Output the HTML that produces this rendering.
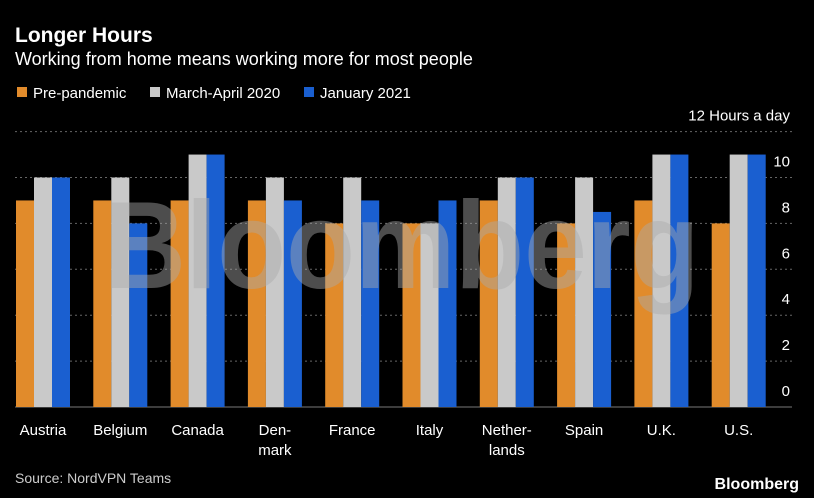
<!DOCTYPE html>
<html><head><meta charset="utf-8"><style>
body{margin:0;background:#000;width:814px;height:498px;overflow:hidden;font-family:"Liberation Sans",sans-serif;color:#fff}
svg{display:block}
</style></head><body>
<svg width="814" height="498" id="c">
<text x="15" y="42" font-size="21" font-weight="bold" fill="#fff">Longer Hours</text>
<text x="15" y="65" font-size="18" fill="#fff">Working from home means working more for most people</text>
<g font-size="15" fill="#fff">
<rect x="17" y="87" width="10" height="10" fill="#e18b2b"/>
<text x="33" y="98">Pre-pandemic</text>
<rect x="150" y="87" width="10" height="10" fill="#c9c9c9"/>
<text x="166" y="98">March-April 2020</text>
<rect x="304" y="87" width="10" height="10" fill="#1a5fd0"/>
<text x="320" y="98">January 2021</text>
</g>
<g id="grid"></g>
<g id="bars"></g>
<text x="402" y="288" text-anchor="middle" font-size="124" font-weight="bold" fill="#aaa" fill-opacity="0.45" textLength="595" lengthAdjust="spacingAndGlyphs">Bloomberg</text>
<g id="labels"></g>
<text x="15" y="483" font-size="14" fill="#ccc">Source: NordVPN Teams</text>
<text x="799" y="489" text-anchor="end" font-size="16" font-weight="bold" fill="#fff">Bloomberg</text>
</svg>
<script>
const categories=[["Austria"],["Belgium"],["Canada"],["Den-","mark"],["France"],["Italy"],["Nether-","lands"],["Spain"],["U.K."],["U.S."]];
const prePandemic=[9,9,9,9,8,8,9,8,9,8];
const marchApril2020=[10,10,11,10,10,8,10,10,11,11];
const january2021=[10,8,11,9,9,9,10,8.5,11,11];
const yTicks=[0,2,4,6,8,10,12];
const NS="http://www.w3.org/2000/svg";
const y0=407,unit=22.95,x0=16,step=77.3,bw=18;
const y=v=>y0-v*unit;
const gx=i=>x0+i*step;
const grid=document.getElementById('grid'),bars=document.getElementById('bars'),labels=document.getElementById('labels');
function mk(t,a,p){const e=document.createElementNS(NS,t);for(const k in a)e.setAttribute(k,a[k]);p.appendChild(e);return e;}
yTicks.forEach(t=>{
 const l=mk('line',{x1:15,x2:792,y1:y(t),y2:y(t),stroke:t===0?'#777':'#666','stroke-width':1,'stroke-dasharray':t===0?'':'2,3'},grid);
 
 
 const tx=mk('text',{x:790,y:y(t)-11,'text-anchor':'end','font-size':15,fill:'#fff'},grid);
 tx.textContent=t===12?'12 Hours a day':String(t);
 
 
});
const series=[[prePandemic,'#e18b2b','pre-pandemic'],[marchApril2020,'#c9c9c9','march-april-2020'],[january2021,'#1a5fd0','january-2021']];
categories.forEach((c,i)=>{
 series.forEach((s,j)=>{
  const v=s[0][i];
  const r=mk('rect',{x:gx(i)+j*bw,y:y(v),width:bw,height:v*unit,fill:s[1]},bars);
  
  
 });
 const t=mk('text',{x:gx(i)+1.5*bw,'text-anchor':'middle','font-size':15,fill:'#fff'},labels);
 
 
 c.forEach((w,k)=>{const ts=mk('tspan',{x:gx(i)+1.5*bw,y:435+k*20},t);ts.textContent=w;});
});
</script>
</body></html>
